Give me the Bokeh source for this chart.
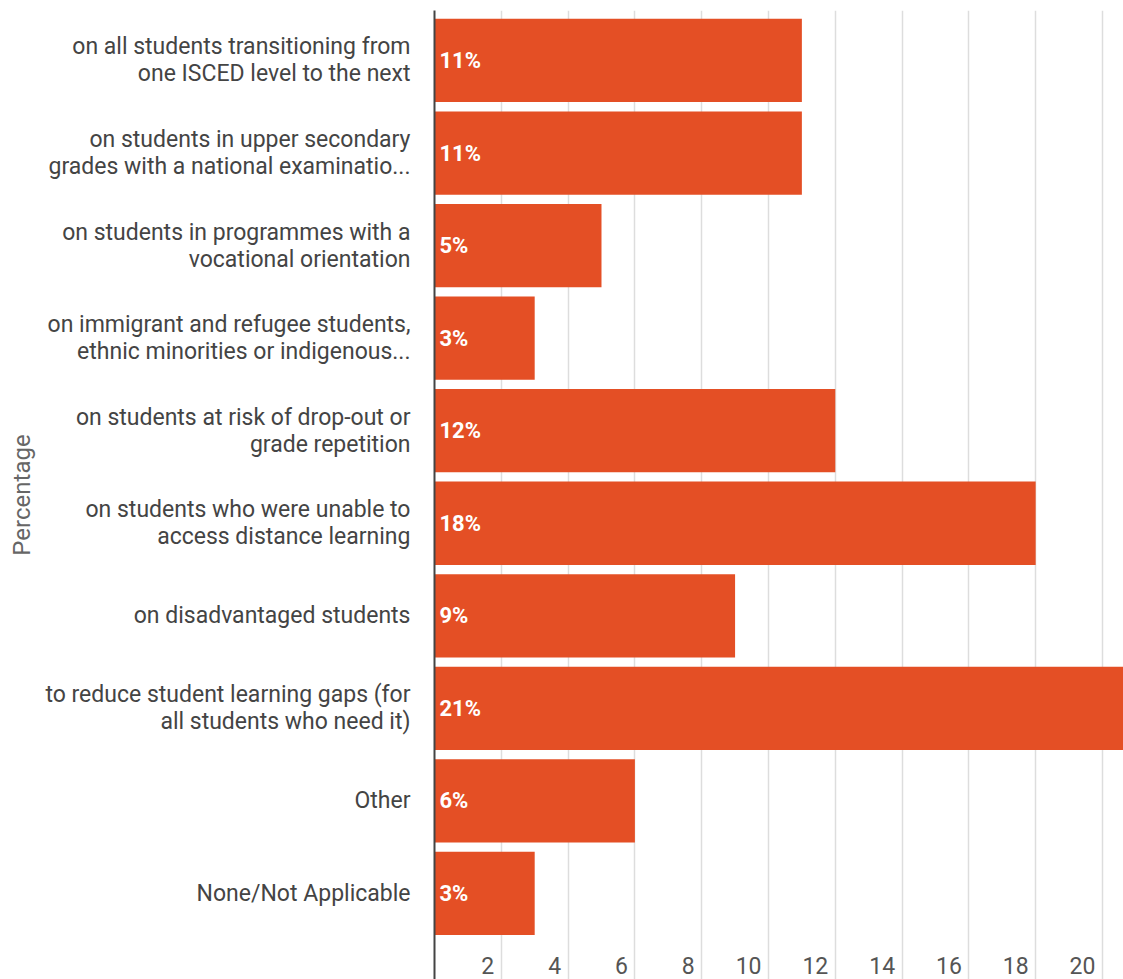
from bokeh.plotting import figure
from bokeh.models import Range1d, FixedTicker, ColumnDataSource
from bokeh.core.properties import value
from bokeh.embed import file_html
from bokeh.resources import INLINE

categories = [
    "on all students transitioning from\none ISCED level to the next",
    "on students in upper secondary\ngrades with a national examinatio...",
    "on students in programmes with a\nvocational orientation",
    "on immigrant and refugee students,\nethnic minorities or indigenous...",
    "on students at risk of drop-out or\ngrade repetition",
    "on students who were unable to\naccess distance learning",
    "on disadvantaged students",
    "to reduce student learning gaps (for\nall students who need it)",
    "Other",
    "None/Not Applicable",
]
values = [11, 11, 5, 3, 12, 18, 9, 21, 6, 3]
labels = ["11%", "11%", "5%", "3%", "12%", "18%", "9%", "21%", "6%", "3%"]
x_ticks = [2, 4, 6, 8, 10, 12, 14, 16, 18, 20]

BAR = "#E44F25"
FONT = "Roboto"

idx = list(range(len(categories)))
src = ColumnDataSource(dict(y=idx, v=values, lab=labels))

y_top = -0.54
y_bottom = len(categories) - 0.07
x_max = 20.63

p = figure(width=1123, height=979, output_backend="svg", toolbar_location=None,
           x_range=Range1d(0, x_max), y_range=Range1d(y_bottom, y_top),
           x_axis_location=None, min_border_top=10, min_border_bottom=0,
           min_border_right=0, min_border_left=434)
p.outline_line_color = None
p.background_fill_color = "white"

p.xgrid.ticker = FixedTicker(ticks=x_ticks)
p.xgrid.grid_line_color = "#dddddd"
p.xgrid.grid_line_width = 1.5
p.ygrid.grid_line_color = None

p.hbar(y="y", right="v", left=0, height=0.9, source=src, fill_color=BAR, line_color=None)

p.text(x=0, y="y", text="lab", source=src, x_offset=5, text_color="white",
       text_font=value(FONT), text_font_style="bold", text_font_size="22px",
       text_baseline="middle", text_align="left")

p.text(x=x_ticks, y=[y_bottom] * len(x_ticks), text=[str(t) for t in x_ticks],
       x_offset=-7, y_offset=-6, text_color="#555555", text_font=value(FONT),
       text_font_size="23px", text_baseline="bottom", text_align="right")

ax = p.yaxis[0]
ax.ticker = FixedTicker(ticks=idx)
ax.major_label_overrides = {i: c for i, c in zip(idx, categories)}
ax.major_tick_line_color = None
ax.minor_tick_line_color = None
ax.axis_line_color = "#444444"
ax.axis_line_width = 2
ax.major_label_text_font = FONT
ax.major_label_text_font_size = "23px"
ax.major_label_text_line_height = 1.0
ax.major_label_text_color = "#444444"
ax.major_label_text_align = "right"
ax.major_label_standoff = 18
ax.axis_label = "Percentage"
ax.axis_label_text_font = FONT
ax.axis_label_text_font_style = "normal"
ax.axis_label_text_font_size = "24px"
ax.axis_label_text_color = "#666666"
ax.axis_label_standoff = 6

open("out.html", "w").write(file_html(p, INLINE))
